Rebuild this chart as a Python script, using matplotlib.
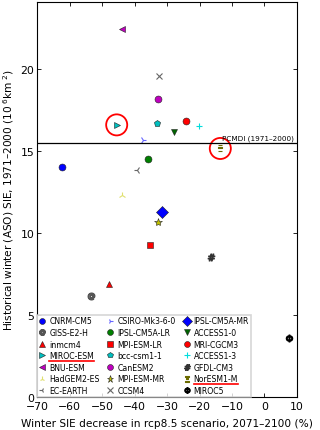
import matplotlib
matplotlib.use("Agg")
import matplotlib.pyplot as plt
from matplotlib.lines import Line2D

models = ["CNRM-CM5", "GISS-E2-H", "inmcm4", "MIROC-ESM", "BNU-ESM", "HadGEM2-ES", "EC-EARTH",
          "CSIRO-Mk3-6-0", "IPSL-CM5A-LR", "MPI-ESM-LR", "bcc-csm1-1", "CanESM2", "MPI-ESM-MR", "CCSM4",
          "IPSL-CM5A-MR", "ACCESS1-0", "MRI-CGCM3", "ACCESS1-3", "GFDL-CM3", "NorESM1-M", "MIROC5"]
sie_decrease = [-62.4, -53.4, -48.0, -45.5, -43.8, -43.9, -39.3,
                -37.5, -36.0, -35.2, -33.0, -32.9, -32.9, -32.5,
                -31.4, -27.8, -24.2, -20.2, -16.4, -13.6, 7.6]
sie_hist = [14.05, 6.18, 6.89, 16.6, 22.48, 12.32, 13.82,
            15.67, 14.51, 9.25, 16.73, 18.2, 10.69, 19.6,
            11.26, 16.18, 16.83, 16.55, 8.52, 15.16, 3.58]
pcmdi = 15.51
highlight = ["MIROC-ESM", "NorESM1-M"]

styles = {
    "CNRM-CM5": ("o", "#0000ff"), "GISS-E2-H": ("$@$", "#555555"), "inmcm4": ("^", "#ff0000"),
    "MIROC-ESM": (">", "#00bfbf"), "BNU-ESM": ("<", "#bf00bf"), "HadGEM2-ES": ("2", "#e0e070"),
    "EC-EARTH": ("3", "#666666"), "CSIRO-Mk3-6-0": ("4", "#6666ff"), "IPSL-CM5A-LR": ("o", "#008000"),
    "MPI-ESM-LR": ("s", "#ff0000"), "bcc-csm1-1": ("p", "#00bfbf"), "CanESM2": ("o", "#bf00bf"),
    "MPI-ESM-MR": ("*", "#bfbf00"), "CCSM4": ("x", "#666666"), "IPSL-CM5A-MR": ("D", "#0000ff"),
    "ACCESS1-0": ("v", "#006400"), "MRI-CGCM3": ("o", "#ff0000"), "ACCESS1-3": ("+", "#00dddd"),
    "GFDL-CM3": (r"$\#$", "#333333"), "NorESM1-M": (r"$\Xi$", "#6b6b00"), "MIROC5": (r"$\Phi$", "#000000"),
}
filled_markers = ["o", "^", ">", "<", "s", "p", "*", "D", "v"]

plt.rcParams["font.family"] = "DejaVu Sans"
fig = plt.figure(figsize=(3.2, 4.31), dpi=100)
ax = fig.add_axes([0.116, 0.077, 0.812, 0.916])

for name, x, y in zip(models, sie_decrease, sie_hist):
    m, c = styles[name]
    filled = m in filled_markers
    size = 6 if m in ["D", "*"] else 5
    ax.plot(x, y, linestyle="none", marker=m, color=c, ms=size,
            mec="#222222" if filled else c, mew=0.4 if filled else 0.8, label=name)

for name in highlight:
    i = models.index(name)
    ax.scatter(sie_decrease[i], sie_hist[i], s=230, facecolor="none", edgecolor="red", lw=1.3)

ax.axhline(pcmdi, color="black", lw=0.9)
ax.text(9, pcmdi + 0.12, "PCMDI (1971–2000)", fontsize=5.2, ha="right", va="bottom")

ax.set_xlim(-70, 10)
ax.set_ylim(0, 24.1)
ax.set_xticks(range(-70, 11, 10))
ax.set_yticks([0, 5, 10, 15, 20])
ax.tick_params(direction="in", top=True, right=True, labelsize=7.8, length=3, width=0.6)
ax.tick_params(axis="x", pad=3)
ax.tick_params(axis="y", pad=2)
ax.set_xlabel("Winter SIE decrease in rcp8.5 scenario, 2071–2100 (%)", fontsize=7.6, labelpad=5)
ax.set_ylabel("Historical winter (ASO) SIE, 1971–2000 (10$^{\\ 6}$km$^{\\ 2}$)", fontsize=7.6, labelpad=3)

leg = ax.legend(loc="lower left", ncol=3, fontsize=5.6, borderaxespad=0, frameon=True,
                fancybox=False, edgecolor="#cccccc", handlelength=0.8, handletextpad=0.5,
                columnspacing=1.0, labelspacing=0.33, borderpad=0.25, markerscale=0.85)
leg.get_frame().set_linewidth(1.2)

fig.canvas.draw()
inv = fig.transFigure.inverted()
for t in leg.get_texts():
    if t.get_text() in highlight:
        bb = t.get_window_extent()
        (x0, y0), (x1, _) = inv.transform([(bb.x0, bb.y0 - 1), (bb.x1, bb.y0)])
        fig.add_artist(Line2D([x0, x1], [y0, y0], color="red", lw=1.2, transform=fig.transFigure))

fig.savefig("out.png", dpi=100)
